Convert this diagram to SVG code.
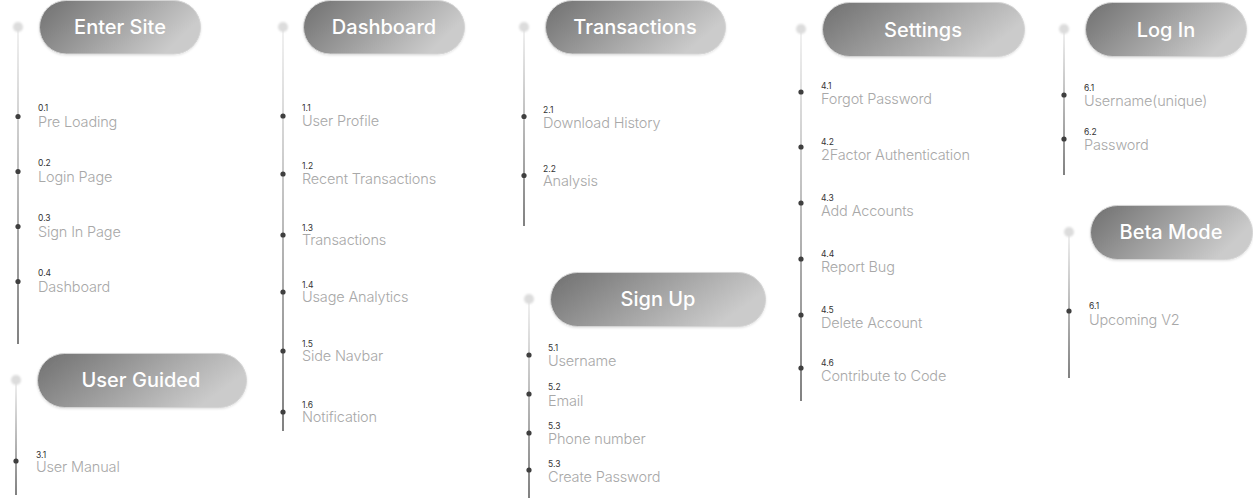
<svg xmlns="http://www.w3.org/2000/svg" width="1253" height="499" viewBox="0 0 1253 499">
<defs>
<linearGradient id="pg" x1="0" y1="0" x2="1" y2="0.35">
<stop offset="0" stop-color="#6f6f6f"/>
<stop offset="1" stop-color="#cbcbcb"/>
</linearGradient>
<linearGradient id="lg" x1="0" y1="0" x2="0" y2="1">
<stop offset="0" stop-color="#e8e8e8"/>
<stop offset="1" stop-color="#2e2e2e"/>
</linearGradient>
<filter id="bl" x="-1" y="-1" width="3" height="3"><feGaussianBlur stdDeviation="1.2"/></filter>
<filter id="sh" x="-0.1" y="-0.2" width="1.2" height="1.5"><feDropShadow dx="0" dy="1" stdDeviation="1.2" flood-color="#000" flood-opacity="0.12"/></filter>
</defs>
<style>
.pill{fill:url(#pg);stroke:#d4d4d4;stroke-width:1;filter:url(#sh)}
.pt{font-family:Inter,"Liberation Sans",sans-serif;font-size:20px;font-weight:500;fill:#fff;text-anchor:middle;dominant-baseline:central}
.td{fill:#dcdcdc;filter:url(#bl)}
.ln{fill:url(#lg)}
.d{fill:#3f3f3f}
.n{font-family:Inter,"Liberation Sans",sans-serif;font-size:8.5px;fill:#333}
.l{font-family:Inter,"Liberation Sans",sans-serif;font-size:14.5px;font-weight:300;fill:#a8a8a8;letter-spacing:-0.15px}
</style>
<g id="connectors">
<rect class="ln" x="17.4" y="28" width="1.2" height="316"/>
<rect class="ln" x="15.4" y="381" width="1.2" height="114"/>
<rect class="ln" x="282.4" y="28" width="1.2" height="403"/>
<rect class="ln" x="523.4" y="28" width="1.2" height="198"/>
<rect class="ln" x="528.4" y="300" width="1.2" height="198"/>
<rect class="ln" x="800.4" y="30" width="1.2" height="371"/>
<rect class="ln" x="1063.4" y="30" width="1.2" height="145"/>
<rect class="ln" x="1068.4" y="233" width="1.2" height="145"/>
</g>
<g id="enter-site">
<circle class="td" cx="18" cy="27" r="5"/>
<rect class="pill" x="39.5" y="0.5" width="161" height="53.5" rx="26.75"/>
<text class="pt" x="120" y="27">Enter Site</text>
<circle class="d" cx="18" cy="116.5" r="2.6"/><text class="n" x="38" y="111">0.1</text><text class="l" x="38" y="127">Pre Loading</text>
<circle class="d" cx="18" cy="171.5" r="2.6"/><text class="n" x="38" y="166">0.2</text><text class="l" x="38" y="182">Login Page</text>
<circle class="d" cx="18" cy="226.5" r="2.6"/><text class="n" x="38" y="221">0.3</text><text class="l" x="38" y="237">Sign In Page</text>
<circle class="d" cx="18" cy="281.5" r="2.6"/><text class="n" x="38" y="276">0.4</text><text class="l" x="38" y="292">Dashboard</text>
</g>
<g id="user-guided">
<circle class="td" cx="16" cy="380" r="5"/>
<rect class="pill" x="37.5" y="353.5" width="209" height="54" rx="27"/>
<text class="pt" x="141" y="380">User Guided</text>
<circle class="d" cx="16" cy="461" r="2.6"/><text class="n" x="36" y="458">3.1</text><text class="l" x="36" y="472">User Manual</text>
</g>
<g id="dashboard">
<circle class="td" cx="283" cy="27" r="5"/>
<rect class="pill" x="303.5" y="0.5" width="161" height="53.5" rx="26.75"/>
<text class="pt" x="384" y="27">Dashboard</text>
<circle class="d" cx="283" cy="116" r="2.6"/><text class="n" x="302" y="111">1.1</text><text class="l" x="302" y="126">User Profile</text>
<circle class="d" cx="283" cy="174" r="2.6"/><text class="n" x="302" y="169">1.2</text><text class="l" x="302" y="184">Recent Transactions</text>
<circle class="d" cx="283" cy="235" r="2.6"/><text class="n" x="302" y="231">1.3</text><text class="l" x="302" y="245">Transactions</text>
<circle class="d" cx="283" cy="292" r="2.6"/><text class="n" x="302" y="288">1.4</text><text class="l" x="302" y="302">Usage Analytics</text>
<circle class="d" cx="283" cy="351" r="2.6"/><text class="n" x="302" y="347">1.5</text><text class="l" x="302" y="361">Side Navbar</text>
<circle class="d" cx="283" cy="412" r="2.6"/><text class="n" x="302" y="408">1.6</text><text class="l" x="302" y="422">Notification</text>
</g>
<g id="transactions">
<circle class="td" cx="524" cy="27" r="5"/>
<rect class="pill" x="545.5" y="0.5" width="180" height="53.5" rx="26.75"/>
<text class="pt" x="635" y="27">Transactions</text>
<circle class="d" cx="524" cy="116.5" r="2.6"/><text class="n" x="543" y="113">2.1</text><text class="l" x="543" y="128">Download History</text>
<circle class="d" cx="524" cy="175.5" r="2.6"/><text class="n" x="543" y="172">2.2</text><text class="l" x="543" y="186">Analysis</text>
</g>
<g id="sign-up">
<circle class="td" cx="529" cy="299" r="5"/>
<rect class="pill" x="550.5" y="272.5" width="215" height="54" rx="27"/>
<text class="pt" x="658" y="299">Sign Up</text>
<circle class="d" cx="529" cy="355" r="2.6"/><text class="n" x="548" y="351">5.1</text><text class="l" x="548" y="366">Username</text>
<circle class="d" cx="529" cy="394" r="2.6"/><text class="n" x="548" y="390">5.2</text><text class="l" x="548" y="406">Email</text>
<circle class="d" cx="529" cy="433" r="2.6"/><text class="n" x="548" y="429">5.3</text><text class="l" x="548" y="444">Phone number</text>
<circle class="d" cx="529" cy="470" r="2.6"/><text class="n" x="548" y="467">5.3</text><text class="l" x="548" y="482">Create Password</text>
</g>
<g id="settings">
<circle class="td" cx="801" cy="29" r="5"/>
<rect class="pill" x="822.5" y="2.5" width="202" height="54" rx="27"/>
<text class="pt" x="923" y="29.5">Settings</text>
<circle class="d" cx="801" cy="92" r="2.6"/><text class="n" x="821" y="89">4.1</text><text class="l" x="821" y="104">Forgot Password</text>
<circle class="d" cx="801" cy="147" r="2.6"/><text class="n" x="821" y="145">4.2</text><text class="l" x="821" y="160">2Factor Authentication</text>
<circle class="d" cx="801" cy="203" r="2.6"/><text class="n" x="821" y="201">4.3</text><text class="l" x="821" y="216">Add Accounts</text>
<circle class="d" cx="801" cy="259" r="2.6"/><text class="n" x="821" y="257">4.4</text><text class="l" x="821" y="272">Report Bug</text>
<circle class="d" cx="801" cy="315" r="2.6"/><text class="n" x="821" y="313">4.5</text><text class="l" x="821" y="328">Delete Account</text>
<circle class="d" cx="801" cy="368" r="2.6"/><text class="n" x="821" y="366">4.6</text><text class="l" x="821" y="381">Contribute to Code</text>
</g>
<g id="log-in">
<circle class="td" cx="1064" cy="29" r="5"/>
<rect class="pill" x="1085.5" y="2.5" width="161" height="54" rx="27"/>
<text class="pt" x="1166" y="29.5">Log In</text>
<circle class="d" cx="1064" cy="95" r="2.6"/><text class="n" x="1084" y="91">6.1</text><text class="l" x="1084" y="106">Username(unique)</text>
<circle class="d" cx="1064" cy="139" r="2.6"/><text class="n" x="1084" y="135">6.2</text><text class="l" x="1084" y="150">Password</text>
</g>
<g id="beta-mode">
<circle class="td" cx="1069" cy="232" r="5"/>
<rect class="pill" x="1090.5" y="205.5" width="162" height="54" rx="27"/>
<text class="pt" x="1171" y="232">Beta Mode</text>
<circle class="d" cx="1069" cy="311" r="2.6"/><text class="n" x="1089" y="309">6.1</text><text class="l" x="1089" y="325">Upcoming V2</text>
</g>
</svg>
